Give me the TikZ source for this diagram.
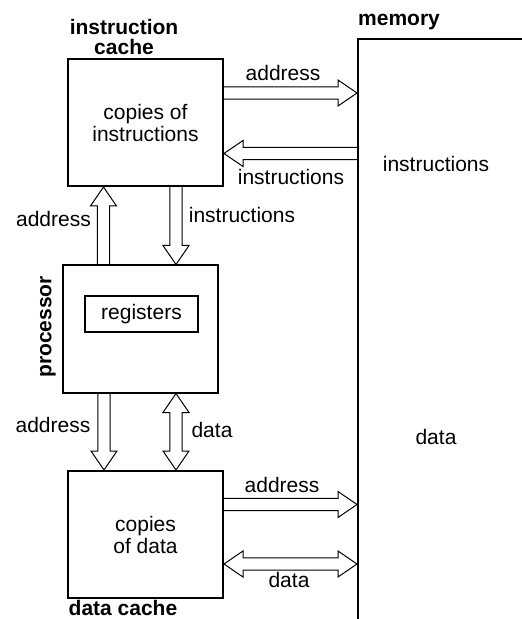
\documentclass[tikz,border=0pt]{standalone}
\usepackage{fontspec}
\setmainfont{Liberation Sans}
\usetikzlibrary{calc}

\tikzset{
  box/.style={draw, line width=1pt, minimum width=77.5pt, minimum height=63.5pt, align=center},
  title/.style={font=\fontsize{10.5}{10}\selectfont\bfseries, align=center},
  fat/.style={line width=0.5pt, to path={
    ($(\tikztotarget)!9.5pt!(\tikztostart)$) coordinate (fh)
    ($(\tikztostart)!3.1pt!90:(\tikztotarget)$) -- ($(fh)!3.1pt!90:(\tikztotarget)$)
    -- ($(fh)!6.5pt!90:(\tikztotarget)$) -- (\tikztotarget)
    -- ($(fh)!6.5pt!-90:(\tikztotarget)$) -- ($(fh)!3.1pt!-90:(\tikztotarget)$)
    -- ($(\tikztostart)!3.1pt!-90:(\tikztotarget)$)}},
  fatboth/.style={line width=0.5pt, to path={
    ($(\tikztostart)!9.5pt!(\tikztotarget)$) coordinate (fs)
    ($(\tikztotarget)!9.5pt!(\tikztostart)$) coordinate (fe)
    (\tikztostart) -- ($(fs)!6.5pt!90:(\tikztotarget)$) -- ($(fs)!3.1pt!90:(\tikztotarget)$)
    -- ($(fe)!3.1pt!90:(\tikztotarget)$) -- ($(fe)!6.5pt!90:(\tikztotarget)$) -- (\tikztotarget)
    -- ($(fe)!6.5pt!-90:(\tikztotarget)$) -- ($(fe)!3.1pt!-90:(\tikztotarget)$)
    -- ($(fs)!3.1pt!-90:(\tikztotarget)$) -- ($(fs)!6.5pt!-90:(\tikztotarget)$) -- cycle}}
}

\begin{document}
\begin{tikzpicture}[x=0.5pt, y=-0.5pt, every node/.style={font=\fontsize{10.5}{11}\selectfont}]
    \useasboundingbox (0,0) rectangle (522,619);

    % boxes
    \node[box] at (145.5,122.5) (a) {copies of\\instructions};
    \node[box] at (140.5,329) (b) {};
    \node[draw, line width=1pt, minimum width=56.5pt, minimum height=18pt] at (141.5,314) (c) {registers};
    \node[box] at (145.5,534.5) (d) {copies\\of data};
    \node[draw, line width=1pt, minimum width=121pt, minimum height=330.5pt] at (479,369.5) (m) {};

    % titles
    \node[title] at (124,37) (t1) {instruction\\cache};
    \node[title, rotate=90] at (48,327) (t2) {processor};
    \node[title] at (123,608) (t3) {data cache};
    \node[title] at (399,22) (t4) {memory};

    % labels
    \node at (283,73) (l1) {address};
    \node at (291,177) (l2) {instructions};
    \node at (53.5,219) (l3) {address};
    \node at (242,215) (l4) {instructions};
    \node at (53,425) (l5) {address};
    \node at (212,430) (l6) {data};
    \node at (282,485) (l7) {address};
    \node at (289,580) (l8) {data};
    \node at (436,164) (l9) {instructions};
    \node at (436,437) (l10) {data};

    % arrow ends
    \coordinate (p1) at ([yshift=14.75pt]a.east);
    \coordinate (p2) at ([yshift=-15.5pt]a.east);
    \coordinate (p3) at ([xshift=-21pt]a.south);
    \coordinate (p4) at ([xshift=15.25pt]a.south);
    \coordinate (p5) at ([xshift=-20.75pt]d.north);
    \coordinate (p6) at ([xshift=15.25pt]d.north);
    \coordinate (p7) at ([yshift=15pt]d.east);
    \coordinate (p8) at ([yshift=-14.75pt]d.east);

    % paths
    \draw[fat] (p1) to (p1 -| m.west); % instruction cache -> memory
    \draw[fat] (p2 -| m.west) to (p2); % memory -> instruction cache
    \draw[fat] (p3 |- b.north) to (p3); % processor -> instruction cache
    \draw[fat] (p4) to (p4 |- b.north); % instruction cache -> processor
    \draw[fat] (p5 |- b.south) to (p5); % processor -> data cache
    \draw[fatboth] (p6 |- b.south) to (p6); % processor <-> data cache
    \draw[fat] (p7) to (p7 -| m.west); % data cache -> memory
    \draw[fatboth] (p8) to (p8 -| m.west); % data cache <-> memory

\end{tikzpicture}
\end{document}
